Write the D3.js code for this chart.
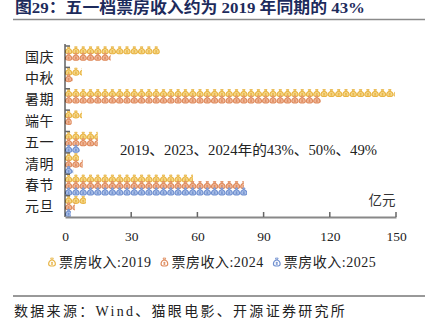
<!DOCTYPE html>
<html>
<head>
<meta charset="utf-8">
<script src="https://cdn.jsdelivr.net/npm/d3@7/dist/d3.min.js"></script>
<style>
  html, body { margin: 0; padding: 0; background: #fff; }
  svg { display: block; }
  text { font-family: "Liberation Serif", "Noto Sans CJK SC", serif; }
</style>
</head>
<body>
<svg id="chart" width="430" height="322"></svg>
<script>
// Holiday box-office revenue (亿元)
const categories = ['国庆', '中秋', '暑期', '端午', '五一', '清明', '春节', '元旦'];
const seriesNames = ['票房收入:2019', '票房收入:2024', '票房收入:2025'];
const box2019 = [43.0, 7.7, 149.5, 7.7, 14.8, 6.3, 58.0, 9.5];
const box2024 = [20.7, 3.5, 116.0, 3.0, 14.8, 8.0, 81.0, 4.5];
const box2025 = [null, null, null, null, 6.8, 3.7, 82.5, 2.7];
const xTicks = [0, 30, 60, 90, 120, 150];
const strokeColors = ['#e8b444', '#de8a5c', '#6f8fcf'];
const fillColors = ['#f6d98c', '#f1b99b', '#adc1e8'];

const seriesValues = [box2019, box2024, box2025];

const svg = d3.select('#chart');

// Title and rules
svg.append('text')
  .attr('x', 15).attr('y', 13)
  .attr('font-size', 15.5).attr('font-weight', 'bold')
  .attr('fill', '#1d2b5c')
  .attr('textLength', 350).attr('lengthAdjust', 'spacingAndGlyphs')
  .text('图29：五一档票房收入约为 2019 年同期的 43%');
svg.append('line').attr('x1', 13).attr('x2', 425).attr('y1', 19.5).attr('y2', 19.5)
  .attr('stroke', '#8a8a8a').attr('stroke-width', 1.5);
svg.append('line').attr('x1', 13).attr('x2', 425).attr('y1', 296).attr('y2', 296)
  .attr('stroke', '#333').attr('stroke-width', 1);
svg.append('text')
  .attr('x', 14).attr('y', 316)
  .attr('font-size', 14).attr('fill', '#222')
  .attr('letter-spacing', 2.3)
  .text('数据来源：Wind、猫眼电影、开源证券研究所');

// Scales
const x = d3.scaleLinear().domain([0, 150]).range([65, 396]);
const y = d3.scaleBand().domain(categories).range([46, 217]).paddingInner(0).paddingOuter(0);
const ySub = d3.scaleBand().domain(d3.range(3)).range([1, y.bandwidth() - 0.9]);

// Money-bag glyph (drawn in a 10 x 11 box)
const bagBody = 'M4.2,2.9 C1.4,3.9 0.5,6.4 0.5,8 C0.5,10 2.5,10.7 5,10.7 C7.5,10.7 9.5,10 9.5,8 C9.5,6.4 8.6,3.9 5.8,2.9 Z';
const bagTie = 'M3.2,0.5 L6.8,0.5 L5.8,2.7 L4.2,2.7 Z';
const bagMark = 'M5,5.2 L5,9.4 M3.6,6.4 L6.4,6.4 M3.6,8.2 L6.4,8.2';
const iconW = 7.0, iconH = 7.6, step = 7.3;

function drawBag(g, cx, cy, s, w, h, fill) {
  const t = g.append('g')
    .attr('transform', `translate(${cx - w / 2},${cy - h / 2}) scale(${w / 10},${h / 11})`);
  t.append('path').attr('d', bagBody).attr('fill', fill).attr('stroke', strokeColors[s]).attr('stroke-width', 1.5);
  t.append('path').attr('d', bagTie).attr('fill', fill).attr('stroke', strokeColors[s]).attr('stroke-width', 1.2);
  t.append('path').attr('d', bagMark).attr('fill', 'none').attr('stroke', strokeColors[s]).attr('stroke-width', 1.1);
}

const defs = svg.append('defs');
const plot = svg.append('g');

seriesValues.forEach((vals, s) => {
  vals.forEach((v, i) => {
    if (v == null) return;
    const w = x(v) - x(0);
    const rowY = y(categories[i]) + ySub(s);
    const rowH = ySub.bandwidth();
    const id = `clip-${s}-${i}`;
    defs.append('clipPath').attr('id', id)
      .append('rect').attr('x', x(0)).attr('y', rowY - 2).attr('width', w).attr('height', rowH + 4);
    const g = plot.append('g').attr('clip-path', `url(#${id})`);
    const n = Math.ceil(w / step);
    d3.range(n).forEach(k => {
      drawBag(g, x(0) + k * step + iconW / 2 + 0.1, rowY + rowH / 2, s, iconW, iconH, fillColors[s]);
    });
  });
});

// Y axis
const yAxisG = svg.append('g');
yAxisG.append('line').attr('x1', x(0)).attr('x2', x(0)).attr('y1', 44).attr('y2', 217)
  .attr('stroke', '#111').attr('stroke-width', 1);
yAxisG.selectAll('line.tick').data(categories).join('line')
  .attr('class', 'tick')
  .attr('x1', x(0)).attr('x2', x(0) + 5)
  .attr('y1', d => y(d)).attr('y2', d => y(d))
  .attr('stroke', '#666').attr('stroke-width', 1.5);
yAxisG.selectAll('text').data(categories).join('text')
  .attr('x', 54).attr('y', d => y(d) + y.bandwidth() / 2 + 5)
  .attr('text-anchor', 'end').attr('font-size', 14).attr('fill', '#222')
  .attr('letter-spacing', 0.5)
  .text(d => d);

// X axis
const xAxisG = svg.append('g').attr('transform', 'translate(0,217)');
xAxisG.call(d3.axisBottom(x).tickValues(xTicks).tickSize(0).tickFormat(d3.format('d')).tickPadding(14))
  .call(g => g.select('.domain').attr('stroke', '#888').attr('stroke-width', 2))
  .call(g => g.selectAll('.tick text').attr('font-size', 13.5).attr('fill', '#222')
    .attr('font-family', '"Liberation Serif", serif'));
xAxisG.selectAll('line.up').data(xTicks.slice(1)).join('line')
  .attr('class', 'up')
  .attr('x1', d => x(d)).attr('x2', d => x(d)).attr('y1', 0).attr('y2', -5)
  .attr('stroke', '#666').attr('stroke-width', 1.5);

svg.append('text').attr('x', 382).attr('y', 205).attr('text-anchor', 'middle')
  .attr('font-size', 13.5).attr('fill', '#333').text('亿元');

// Annotation
svg.append('text').attr('x', 120).attr('y', 155)
  .attr('font-size', 14).attr('fill', '#222')
  .attr('textLength', 257).attr('lengthAdjust', 'spacingAndGlyphs')
  .text('2019、2023、2024年的43%、50%、49%');

// Legend
const legend = svg.append('g');
let lx = 48;
seriesNames.forEach((name, s) => {
  drawBag(legend, lx + 4, 262, s, 7.5, 8.5, '#fff');
  const t = legend.append('text').attr('x', lx + 11).attr('y', 267)
    .attr('font-size', 14).attr('fill', '#222').attr('letter-spacing', 0.5).text(name);
  lx += 11 + t.node().getComputedTextLength() + 9;
});
</script>
</body>
</html>
